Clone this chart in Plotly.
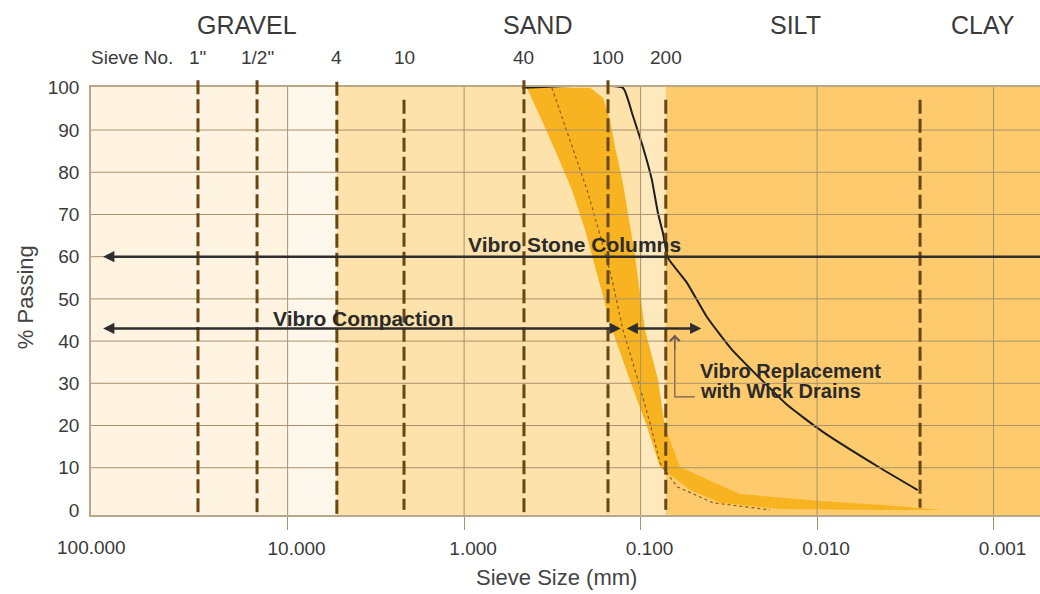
import math
import plotly.graph_objects as go

# ---------------- data ----------------
x_tick_vals = [10, 1, 0.1, 0.01, 0.001]
x_tick_text = ["10.000", "1.000", "0.100", "0.010", "0.001"]
x_first_label = "100.000"
y_tick_vals = [0, 10, 20, 30, 40, 50, 60, 70, 80, 90, 100]

sections = ["GRAVEL", "SAND", "SILT", "CLAY"]
sieve_labels = ['1"', '1/2"', "4", "10", "40", "100", "200"]
sieve_mm = [32.2, 14.9, 5.26, 2.19, 0.458, 0.153, 0.072]
clay_line_mm = 0.00261

# gradation band (coarse limit / fine limit) and median
band_coarse_mm = [0.441, 0.357, 0.294, 0.245, 0.2065, 0.188, 0.145, 0.115, 0.092, 0.0776, 0.0525, 0.0355, 0.0162, 0.0044, 0.00194]
band_coarse_pct = [100, 91.7, 83.6, 75.8, 66.4, 60.2, 42.7, 30.8, 19.7, 10.2, 4.7, 1.7, 0.2, 0.0, 0.0]
band_fine_mm = [0.193, 0.163, 0.149, 0.1396, 0.127, 0.118, 0.1076, 0.0944, 0.0796, 0.0728, 0.0598, 0.0274, 0.00964, 0.0044, 0.00194]
band_fine_pct = [100, 97.6, 92.4, 86.0, 78.2, 70.4, 60.2, 42.7, 30.8, 19.7, 10.2, 3.8, 2.1, 1.2, 0.0]
median_mm = [0.318, 0.245, 0.201, 0.170, 0.145, 0.126, 0.1035, 0.0885, 0.0776, 0.0622, 0.0389, 0.0185]
median_pct = [100, 86.0, 75.8, 65.2, 54.5, 42.7, 30.8, 20.6, 11.1, 5.5, 1.7, 0.0]

# stone-column limit curve
limit_mm = [0.470, 0.126, 0.112, 0.0970, 0.0863, 0.0798, 0.0747, 0.0700, 0.0546, 0.0421, 0.0303, 0.0148, 0.00927, 0.00441, 0.00269]
limit_pct = [100, 100, 94.1, 86.0, 78.2, 70.4, 65.6, 59.7, 53.8, 45.7, 37.9, 24.9, 18.5, 10.0, 4.7]

# application ranges
stone_range_mm = [111, 0.0003]
stone_pct = 60
compaction_range_mm = [111, 0.127]
replacement_range_mm = [0.120, 0.0444]
range_pct = 43
pointer_mm = [0.064, 0.064, 0.0493]
pointer_pct = [41.5, 26.8, 26.8]

# background zones (boundaries in mm)
zone_edges_mm = [1000, 10, 5.26, 0.1, 0.072, 0.0001]
zone_colors = ["#FEF4E1", "#FEF8EC", "#FDE2AC", "#FEE9BE", "#FDCB6E"]

# ---------------- figure ----------------
L = math.log10  # annotations on a log axis are placed in log10 units
FONT = "Liberation Sans, Arial, sans-serif"
TXT = "#3a3a3a"
GRID = "#A8926C"
DASH = "#6a4612"

fig = go.Figure()

fig.add_trace(go.Scatter(
    x=band_coarse_mm + band_fine_mm[::-1],
    y=band_coarse_pct + band_fine_pct[::-1],
    fill="toself", fillcolor="#F8B420", mode="lines",
    line=dict(width=0, color="#F8B420"), hoverinfo="skip", showlegend=False))
fig.add_trace(go.Scatter(x=median_mm, y=median_pct, mode="lines",
                         line=dict(color="#8A5A18", width=1.2, dash="dot"),
                         hoverinfo="skip", showlegend=False))
fig.add_trace(go.Scatter(x=limit_mm, y=limit_pct, mode="lines", line_shape="spline",
                         line=dict(color="#1e1e1e", width=2, smoothing=0.4),
                         hoverinfo="skip", showlegend=False))
fig.add_trace(go.Scatter(x=pointer_mm, y=pointer_pct, mode="lines",
                         line=dict(color="#6e5a50", width=1.2),
                         hoverinfo="skip", showlegend=False))

shapes = []
for i, c in enumerate(zone_colors):
    shapes.append(dict(type="rect", xref="x", yref="paper",
                       x0=zone_edges_mm[i], x1=zone_edges_mm[i + 1], y0=0, y1=1,
                       fillcolor=c, line=dict(width=0), layer="below"))
for v in x_tick_vals:
    shapes.append(dict(type="line", xref="x", yref="paper", x0=v, x1=v, y0=0, y1=1,
                       line=dict(color=GRID, width=1), layer="above"))
for v in y_tick_vals[1:-1]:
    shapes.append(dict(type="line", xref="paper", yref="y", x0=0, x1=1, y0=v, y1=v,
                       line=dict(color=GRID, width=1), layer="above"))
line_tops = [1.016, 1.016, 1.012, 0.97, 1.016, 1.016, 0.97]
line_bottoms = [0, 0, 0, 0.012, 0, 0.005, 0.012]
for v, t, b in zip(sieve_mm, line_tops, line_bottoms):
    shapes.append(dict(type="line", xref="x", yref="paper", x0=v, x1=v, y0=t, y1=b,
                       line=dict(color=DASH, width=3, dash="14px,5px"), layer="above"))
shapes.append(dict(type="line", xref="x", yref="paper", x0=clay_line_mm, x1=clay_line_mm,
                   y0=0.97, y1=0.017, line=dict(color=DASH, width=3, dash="14px,5px"), layer="above"))

ann = []
AC = "#2e2e2e"
ann.append(dict(x=L(stone_range_mm[0]), y=stone_pct, ax=L(stone_range_mm[1]), ay=stone_pct,
                xref="x", yref="y", axref="x", ayref="y", text="", showarrow=True,
                arrowhead=2, arrowsize=0.9, arrowwidth=2.5, arrowcolor=AC))
for rng in (compaction_range_mm, replacement_range_mm):
    ann.append(dict(x=L(rng[0]), y=range_pct, ax=L(rng[1]), ay=range_pct,
                    xref="x", yref="y", axref="x", ayref="y", text="", showarrow=True,
                    arrowside="end+start", arrowhead=2, startarrowhead=2,
                    arrowsize=0.9, startarrowsize=0.9, arrowwidth=2.5, arrowcolor=AC))
ann.append(dict(x=L(pointer_mm[0]), y=pointer_pct[0], ax=L(pointer_mm[0]), ay=pointer_pct[0] - 4,
                xref="x", yref="y", axref="x", ayref="y", text="", showarrow=True,
                arrowhead=4, arrowsize=1.6, arrowwidth=1.2, arrowcolor="#6e5a50"))


def label(text, x, y, size, color=TXT, xanchor="center", xref="paper", **kw):
    d = dict(text=text, xref=xref, yref="paper", x=x, y=y, showarrow=False,
             xanchor=xanchor, yanchor="middle", font=dict(family=FONT, size=size, color=color))
    d.update(kw)
    ann.append(d)


BC = "#2a2a2a"
label("<b>Vibro Stone Columns</b>", 0.510, 0.631, 21, BC)
label("<b>Vibro Compaction</b>", 0.2866, 0.458, 21, BC)
label("<b>Vibro Replacement</b>", 0.6396, 0.336, 20, BC, xanchor="left")
label("<b>with Wick Drains</b>", 0.6396, 0.29, 20, BC, xanchor="left")

sec_x = [0.164, 0.470, 0.742, 0.940]
for s, xp in zip(sections, sec_x):
    label(s, xp, 1.145, 25)
label("Sieve No.", 0.0432, 1.068, 19)
for lab, v in zip(sieve_labels, sieve_mm):
    label(lab, L(v), 1.068, 19, xref="x")
label(x_first_label, 0.0, -0.077, 19)
label("Sieve Size (mm)", 0.49, -0.147, 22, "#444")
label("% Passing", -0.0695, 0.509, 22, "#444", textangle=-90)

fig.update_layout(
    width=1040, height=594,
    margin=dict(l=91, r=0, t=87, b=79, autoexpand=False),
    paper_bgcolor="white", plot_bgcolor="white",
    font=dict(family=FONT, size=19, color=TXT),
    showlegend=False,
    shapes=shapes, annotations=ann,
    xaxis=dict(type="log", range=[2.114, -3.263], showgrid=False, zeroline=False, automargin=False,
               tickvals=x_tick_vals, ticktext=x_tick_text, ticks="outside", ticklen=13,
               tickcolor=GRID, tickwidth=1, showline=True, linecolor="#B9A887", linewidth=1.5,
               mirror=True, tickfont=dict(family=FONT, size=19, color=TXT),
               ticklabelshift=-9, ticklabelstandoff=2),
    yaxis=dict(range=[-1.2, 100.2], tickvals=y_tick_vals, showgrid=False, zeroline=False,
               automargin=False, ticks="", showline=True, linecolor="#B9A887", linewidth=1.5,
               mirror=True, tickfont=dict(family=FONT, size=19, color=TXT), ticklabelstandoff=6),
)

fig.write_html("out.html", config={"displayModeBar": False},
               post_script="document.body.style.margin='0px';")
